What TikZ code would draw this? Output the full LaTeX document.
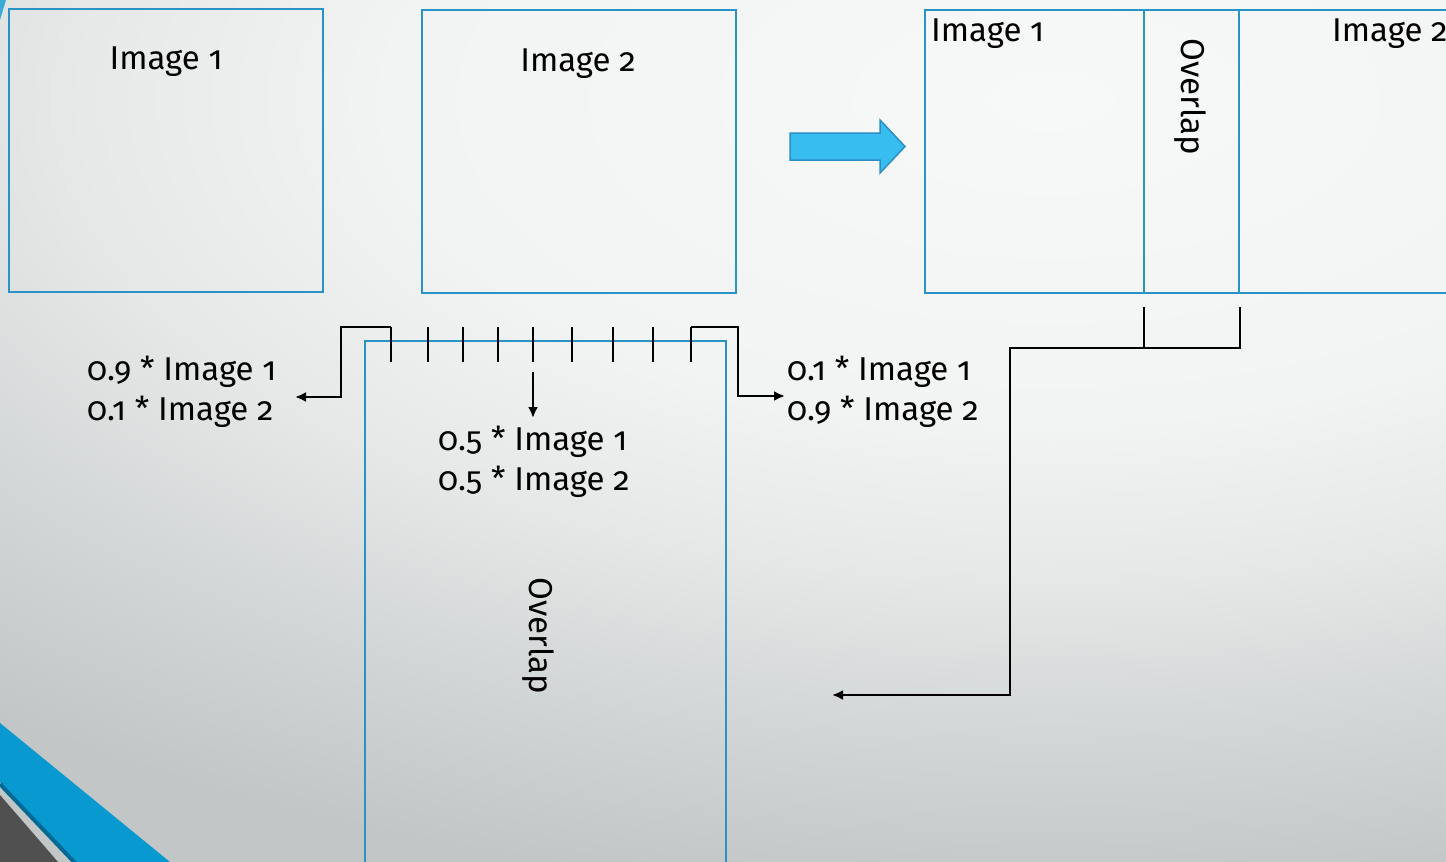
\documentclass[tikz,border=0pt]{standalone}
\usepackage{fontspec}
\setmainfont{Fira Sans}[Numbers=OldStyle]
\usetikzlibrary{arrows.meta}
\definecolor{bgin}{HTML}{F7F8F8}
\definecolor{bgA}{HTML}{F2F3F3}
\definecolor{bgB}{HTML}{E6E8E8}
\definecolor{bgC}{HTML}{D6D9D9}
\definecolor{bgout}{HTML}{C2C6C6}
\definecolor{boxblue}{HTML}{2A93C6}
\definecolor{arrfill}{HTML}{38BDF0}
\definecolor{arrdraw}{HTML}{2B8EC4}
\definecolor{band}{HTML}{0799CF}
\definecolor{bandedge}{HTML}{006A94}
\definecolor{darkgray}{HTML}{505050}
\pgfdeclareradialshading{bgshade}{\pgfpoint{0bp}{0bp}}{color(0bp)=(bgin); color(10bp)=(bgA); color(15bp)=(bgB); color(19bp)=(bgC); color(25bp)=(bgout); color(50bp)=(bgout)}
\tikzset{
  box/.style={draw=boxblue, line width=2.2pt, inner sep=0pt, outer sep=0pt, anchor=north west},
  lbl/.style={font=\fontsize{33}{40}\selectfont, inner sep=0pt, text=black},
  multi/.style={lbl, align=left, anchor=west},
  blk/.style={draw=black, line width=2.2pt},
  conn/.style={blk, -{Latex[length=11pt,width=10pt]}},
}
\begin{document}
\begin{tikzpicture}[x=1pt,y=-1pt]
\useasboundingbox (0,0) rectangle (1446,862);
\clip (0,0) rectangle (1446,862);
% background
\fill[bgout] (0,0) rectangle (1446,862);
\shade[shading=bgshade] (1050,100) ellipse (1650 and 800);
% corner decorations
\fill[band!80!white] (0,0) -- (6,0) -- (0,20) -- cycle;
\fill[band] (0,723) -- (170,862) -- (75,862) -- (0,782) -- cycle;
\draw[bandedge, line width=4pt] (0,784) -- (76,864);
\fill[darkgray] (0,795) -- (0,862) -- (58,862) -- cycle;
% top boxes
\node[box, minimum width=314pt, minimum height=283pt] (b1) at (9,9) {};
\node[lbl] (t1) at (166,62) {Image 1};
\node[box, minimum width=314pt, minimum height=283pt] (b2) at (422,10) {};
\node[lbl] (t2) at (578,64) {Image 2};
% big arrow
\draw[fill=arrfill, draw=arrdraw, line width=1.5pt] (790,133) -- (880,133) -- (880,120) -- (905,146.5) -- (880,173) -- (880,160) -- (790,160) -- cycle;
% combined image
\node[box, minimum width=560pt, minimum height=283pt] (rb) at (925,10) {};
\node[box, minimum width=95pt, minimum height=283pt] (ov1) at (1144,10) {};
\node[lbl, anchor=west] (t3) at (931,34) {Image 1};
\node[lbl, anchor=west] (t4) at (1332,34) {Image 2};
\node[lbl, rotate=-90] (ovt1) at (1190,97) {Overlap};
% overlap big box
\node[box, minimum width=361pt, minimum height=540pt] (ob) at (365,341) {};
\node[lbl, rotate=-90] (ovt2) at (538,636) {Overlap};
% ticks
\foreach \x [count=\i] in {391,428,463,498,533,572,613,653,691}{
  \coordinate (tt\i) at (\x,327);
  \coordinate (tb\i) at (\x,362);
  \draw[blk] (tt\i) -- (tb\i);
}
% text labels
\node[multi] (lt) at (87,392) {0.9 * Image 1\\0.1 * Image 2};
\node[multi] (rt) at (787,392) {0.1 * Image 1\\0.9 * Image 2};
\node[multi] (mt) at (438,462) {0.5 * Image 1\\0.5 * Image 2};
% connectors
\coordinate (lend) at (295,397);
\coordinate (rend) at (785,396);
\coordinate (mstart) at (533,372);
\coordinate (mend) at (533,418);
\draw[conn] (tt1) -- (341,327) -- (341,397) -- (lend);
\draw[conn] (tt9) -- (738,327) -- (738,396) -- (rend);
\draw[conn] (mstart) -- (mend);
% bracket under overlap
\coordinate (bl) at (1144,307);
\coordinate (br) at (1240,307);
\coordinate (bc) at (1144,348);
\coordinate (aend) at (832,695);
\draw[blk] (bl) -- (bc);
\draw[blk] (br) -- (1240,348) -- (bc);
\draw[conn] (bc) -- (1010,348) -- (1010,695) -- (aend);
\end{tikzpicture}
\end{document}
